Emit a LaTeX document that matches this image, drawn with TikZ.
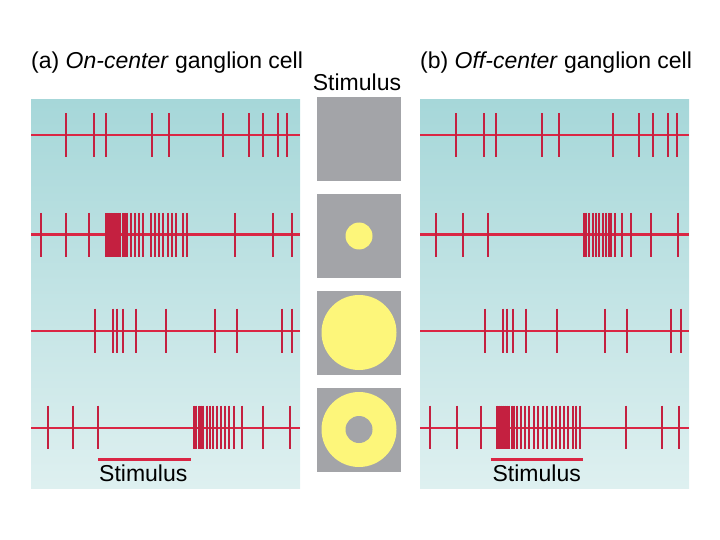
\documentclass[tikz,border=0pt]{standalone}
\usepackage{fontspec}
\setmainfont{Liberation Sans}
\definecolor{panelTop}{RGB}{166,215,217}
\definecolor{panelBottom}{RGB}{222,240,240}
\definecolor{spikeRed}{RGB}{196,32,64}
\definecolor{axisRed}{RGB}{218,38,68}
\definecolor{stimGray}{RGB}{163,164,168}
\definecolor{stimYellow}{RGB}{253,246,122}
\begin{document}
\begin{tikzpicture}[x=1pt,y=-1pt,
  spike/.style={draw=spikeRed, line width=2.2pt},
  axis/.style={draw=axisRed, line width=2.4pt},
  label/.style={font=\fontsize{23}{27}\selectfont, anchor=base, inner sep=0pt},
  stimbox/.style={fill=stimGray, minimum size=84pt, inner sep=0pt},
  spot/.style={circle, fill=stimYellow, inner sep=0pt}]
  \useasboundingbox (0,0) rectangle (720,540);

  % panels
  \shade[top color=panelTop, bottom color=panelBottom] (31,100) rectangle (300,488);
  \shade[top color=panelTop, bottom color=panelBottom] (420,100) rectangle (689,488);

  % titles
  \node[label, anchor=base west] (titleA) at (31,69) {(a) \textit{On-center} ganglion cell};
  \node[label, anchor=base west] (titleB) at (420,69) {(b) \textit{Off-center} ganglion cell};
  \node[label] (stimTop) at (357,91) {Stimulus};

  % stimulus squares
  \node[stimbox] (sq1) at (359,139) {};
  \node[stimbox] (sq2) at (359,236) {};
  \node[stimbox] (sq3) at (359,332.5) {};
  \node[stimbox] (sq4) at (359,429.5) {};
  \node[spot, minimum size=27pt] (dot) at (sq2) {};
  \node[spot, minimum size=75pt] (disc) at (sq3) {};
  \node[spot, minimum size=75pt] (ring) at (sq4) {};
  \node[circle, fill=stimGray, inner sep=0pt, minimum size=27pt] (hole) at (sq4) {};

  % (a) on-center trains
  \draw[axis] (31,135) -- (300,135);
  \foreach \x in {66,94,106,152,168.7,222.7,249.3,263.3,278,286.7}
    \draw[spike] (\x,113.5) -- (\x,157);
  \draw[axis] (31,234.3) -- (300,234.3);
  \foreach \x in {41,66,89,106.5,108.8,111.1,113.4,115.7,118,120.3,122.6,124.9,
                  127.3,131.3,135.3,139.3,143.3,150.7,155,159,163.3,167.7,171.7,176,183.3,187.3,
                  235,273.3,291.7}
    \draw[spike] (\x,213) -- (\x,256.5);
  \draw[axis] (31,330.7) -- (300,330.7);
  \foreach \x in {95,112.7,116.7,123.3,135.7,165.7,215,237.3,281.7,291.7}
    \draw[spike] (\x,308.5) -- (\x,352.5);
  \draw[axis] (31,427.7) -- (300,427.7);
  \foreach \x in {48.3,73.3,98.3,194,196.3,198.6,200.9,203.2,206.7,210,213.3,216.7,
                  220.7,224.7,229.3,234,242,262.7,290}
    \draw[spike] (\x,405.5) -- (\x,449);
  \draw[axis, line width=3pt] (98.3,459) -- (190.7,459);
  \node[label] (stimA) at (143.3,481) {Stimulus};

  % (b) off-center trains
  \draw[axis] (420,135) -- (689,135);
  \foreach \x in {456,484,496,542,558.7,612.7,639.3,653.3,668,676.7}
    \draw[spike] (\x,113.5) -- (\x,157);
  \draw[axis] (420,234.3) -- (689,234.3);
  \foreach \x in {436,462.7,487.7,584,586.2,589.3,592.7,596,599.3,602.7,606,608.7,
                  611.3,615.3,622.3,631,650.7,678.3}
    \draw[spike] (\x,213) -- (\x,256.5);
  \draw[axis] (420,330.7) -- (689,330.7);
  \foreach \x in {485,502.7,506.7,513.3,525.7,556.7,605,627.3,671,681}
    \draw[spike] (\x,308.5) -- (\x,352.5);
  \draw[axis] (420,427.7) -- (689,427.7);
  \foreach \x in {430,456.7,480.7,497.3,499.3,501.3,503.3,505.3,507.3,509.3,511.7,514,
                  517.3,520.7,525,529.3,534,538.3,542.7,547.3,551.7,556,560,564,568.3,
                  572.7,576,580,626,661.7,679.3}
    \draw[spike] (\x,405.5) -- (\x,449);
  \draw[axis, line width=3pt] (490.7,459) -- (582.7,459);
  \node[label] (stimB) at (536.7,481) {Stimulus};
\end{tikzpicture}
\end{document}
